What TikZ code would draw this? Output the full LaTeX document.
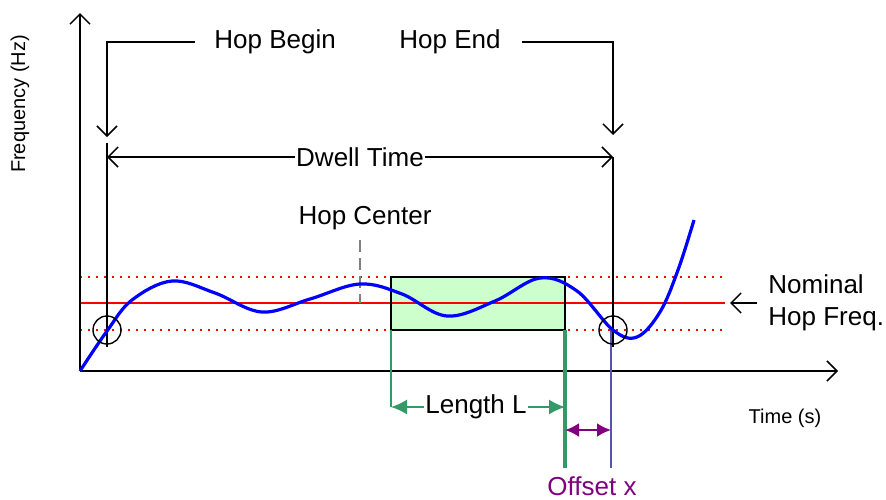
\documentclass[tikz,border=0pt]{standalone}
\usepackage{fontspec}
\setmainfont{Liberation Sans}
\usepackage{xcolor}
\usetikzlibrary{arrows.meta}
\definecolor{boxgreen}{RGB}{204,255,204}
\definecolor{lengreen}{RGB}{51,153,102}
\definecolor{offpurple}{RGB}{128,0,128}
\definecolor{markblue}{RGB}{85,85,170}

\begin{document}
\begin{tikzpicture}[x=0.5pt,y=-0.5pt,
  lbl/.style={font=\fontsize{13}{16}\selectfont, inner sep=0.5pt},
  small/.style={font=\fontsize{10}{12}\selectfont, inner sep=0pt},
  line/.style={line width=0.75pt},
  barb/.style={-{Straight Barb[length=5pt,width=10pt]}},
  fat/.style={-{Latex[length=8pt,width=7.5pt]}},
  ring/.style={draw, circle, minimum size=14pt, inner sep=0pt, line width=0.7pt}]
\useasboundingbox (0,0) rectangle (886,499);

% axes
\coordinate (O) at (80,371);
\coordinate (ytop) at (80,13);
\coordinate (xend) at (838,371);
\node[small, rotate=90] (freq) at (20,104) {Frequency (Hz)};
\node[small] (time) at (785,418) {Time (s)};

% limits and nominal frequency
\fill[boxgreen] (391,277) rectangle (565,330);
\draw[red, line width=0.6pt, dash pattern=on 1pt off 3pt] (80,277) -- (723,277);
\draw[red, line width=0.6pt, dash pattern=on 1pt off 3pt] (80,330) -- (723,330);
\draw[red, line width=0.6pt] (80,303) -- (725,303);
\draw[line width=0.6pt] (391,277) rectangle (565,330);
\draw[line, barb] (O) -- (ytop);
\draw[line, barb] (O) -- (xend);

% hop begin / hop end
\node[lbl, anchor=west] (hb) at (213,42) {Hop Begin};
\node[lbl, anchor=west] (he) at (398,42) {Hop End};
\coordinate (hbc) at (107,42);
\coordinate (hbt) at (107,137);
\coordinate (hec) at (613,42);
\coordinate (het) at (613,135);
\draw[line, barb] ([xshift=-9pt]hb.west) -- (hbc) -- (hbt);
\draw[line, barb] ([xshift=10pt]he.east) -- (hec) -- (het);

% dwell time
\node[lbl] (dw) at (360,157) {Dwell Time};
\coordinate (dwl) at (107,157);
\coordinate (dwr) at (613,157);
\draw[line, barb] (dw.west) -- (dwl);
\draw[line, barb] (dw.east) -- (dwr);
\coordinate (hbb) at (107,347);
\coordinate (heb) at (613,347);
\draw[line] (107,143) -- (hbb);
\draw[line] (dwr) -- (heb);

% hop center
\node[lbl] (hc) at (365,218) {Hop Center};
\draw[gray, line width=0.8pt, dash pattern=on 6pt off 3pt] (360,240) -- (360,303);

% nominal hop freq
\node[lbl, anchor=west, align=left] (nom) at (767,303) {Nominal\\Hop Freq.};
\coordinate (nomt) at (730,303);
\draw[line, barb] ([xshift=-5pt]nom.west) -- (nomt);

% length L
\coordinate (lenl) at (391,407);
\coordinate (lenr) at (565,407);
\node[lbl] (len) at (476,407) {Length L};
\draw[lengreen, line width=0.8pt] (391,330) -- (lenl);
\draw[lengreen, line width=0.8pt, fat] (len.west) -- (lenl);
\draw[lengreen, line width=0.8pt, fat] (len.east) -- (lenr);
\draw[lengreen, line width=1.6pt] (565,330) -- (565,468);

% offset x
\draw[markblue, line width=0.8pt] (611,330) -- (611,468);
\coordinate (offl) at (565,430);
\coordinate (offr) at (611,430);
\draw[offpurple, line width=1.2pt, {Latex[length=7pt,width=7pt]}-{Latex[length=7pt,width=7pt]}] (offl) -- (offr);
\node[lbl, text=offpurple] (off) at (592,486) {Offset x};

% signal
\draw[blue, line width=1.6pt] plot[smooth, tension=0.6] coordinates {
  (80,371) (107,331) (132,300) (172,281) (215,293) (262,312) (310,299)
  (360,284) (402,294) (447,316) (495,301) (540,278) (577,291) (613,330)
  (637,337) (660,312) (678,270) (694,220)};
\node[ring] (cb) at (107,330) {};
\node[ring] (ce) at (613,330) {};
\end{tikzpicture}
\end{document}
